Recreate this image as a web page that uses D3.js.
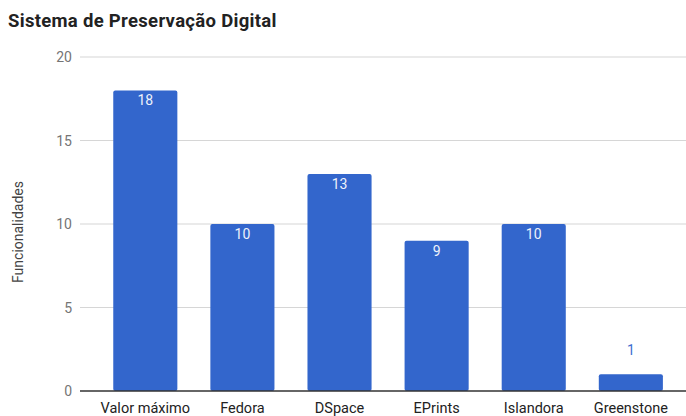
<!DOCTYPE html>
<html><head><meta charset="utf-8">
<script src="https://cdn.jsdelivr.net/npm/d3@7/dist/d3.min.js"></script>
<style>body{margin:0;background:#fff}svg{display:block;font-family:Roboto,sans-serif}</style>
</head><body>
<svg id="c" width="686" height="416"></svg>
<script>
const categories = ["Valor máximo","Fedora","DSpace","EPrints","Islandora","Greenstone"];
const values = [18,10,13,9,10,1];
const yTicks = [0,5,10,15,20];
const title = "Sistema de Preservação Digital";
const yTitle = "Funcionalidades";

const svg = d3.select("#c");
const y = d3.scaleLinear().domain([0,20]).range([391,57]);
const x = d3.scaleBand().domain(categories).range([96.75,679.4]).paddingInner(0.34).paddingOuter(0.17);

svg.append("text").attr("x",8).attr("y",27).attr("font-size",18.5).attr("font-weight","bold")
  .attr("letter-spacing",0.3).attr("fill","#222").text(title);

const g = svg.append("g");
g.selectAll("line.grid").data(yTicks.filter(d=>d>0)).join("line")
  .attr("x1",80).attr("x2",686).attr("y1",d=>y(d)).attr("y2",d=>y(d))
  .attr("stroke","#d6d6d6").attr("stroke-width",1.2);
g.selectAll("text.tick").data(yTicks).join("text")
  .attr("x",72).attr("y",d=>y(d)+5).attr("text-anchor","end")
  .attr("font-size",14).attr("fill","#757575").text(d=>d);

svg.append("text").attr("transform","translate(23,232) rotate(-90)").attr("text-anchor","middle")
  .attr("font-size",14).attr("fill","#444").text(yTitle);

svg.selectAll("rect.bar").data(values).join("rect")
  .attr("x",(d,i)=>x(categories[i])).attr("width",x.bandwidth())
  .attr("y",d=>y(d)).attr("height",d=>y(0)-y(d))
  .attr("rx",2).attr("fill","#3366cc");

svg.append("line").attr("x1",80).attr("x2",686).attr("y1",y(0)).attr("y2",y(0)).attr("stroke","#333").attr("stroke-width",1.3);

svg.selectAll("text.val").data(values).join("text")
  .attr("x",(d,i)=>x(categories[i])+x.bandwidth()/2)
  .attr("y",d=> (y(0)-y(d) > 25) ? y(d)+15 : y(d)-19)
  .attr("text-anchor","middle").attr("font-size",14)
  .attr("fill",d=> (y(0)-y(d) > 25) ? "#eef2fb" : "#3f6fd0").text(d=>d);

svg.selectAll("text.cat").data(categories).join("text")
  .attr("x",d=>x(d)+x.bandwidth()/2).attr("y",413)
  .attr("text-anchor","middle").attr("font-size",14.5).attr("fill","#222").text(d=>d);
</script>
</body></html>
